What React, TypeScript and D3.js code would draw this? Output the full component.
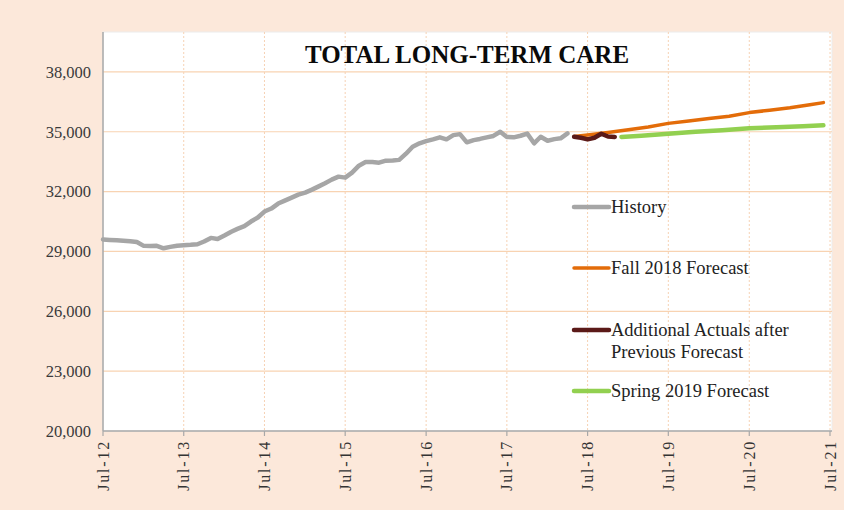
import React from "react";
import * as d3 from "d3";

const title = "TOTAL LONG-TERM CARE";
const yTicks = [20000, 23000, 26000, 29000, 32000, 35000, 38000];
const xTickLabels = ["Jul-12", "Jul-13", "Jul-14", "Jul-15", "Jul-16", "Jul-17", "Jul-18", "Jul-19", "Jul-20", "Jul-21"];

// History: monthly from Jul-2012 to Apr-2018
const historyStart = "2012-07";
const historyValues = [
  29600, 29580, 29560, 29540, 29510, 29470, 29280, 29270, 29280, 29160,
  29230, 29290, 29310, 29330, 29360, 29500, 29680, 29620, 29800, 29990,
  30130, 30270, 30500, 30700, 31000, 31150, 31400, 31550, 31700, 31850,
  31950, 32100, 32250, 32420, 32600, 32750, 32700, 32950, 33300, 33480,
  33480, 33450, 33550, 33560, 33590, 33900, 34250, 34420, 34530, 34620,
  34720, 34620, 34830, 34880, 34470, 34580, 34640, 34720, 34790, 35000,
  34740, 34720, 34800, 34910, 34420, 34750, 34550, 34630, 34670, 34920,
];

// Additional actuals: monthly May-2018 to Nov-2018
const actualsStart = "2018-05";
const actualsValues = [34750, 34700, 34620, 34700, 34900, 34760, 34740];

const fallMonths = ["2018-05", "2018-07", "2018-10", "2019-01", "2019-04", "2019-07", "2019-10", "2020-01", "2020-04", "2020-07", "2020-10", "2021-01", "2021-04", "2021-06"];
const fallValues = [34760, 34840, 34960, 35100, 35240, 35420, 35540, 35660, 35780, 35960, 36080, 36200, 36350, 36460];

const springMonths = ["2018-12", "2019-03", "2019-07", "2019-11", "2020-03", "2020-07", "2020-11", "2021-03", "2021-06"];
const springValues = [34740, 34800, 34900, 35000, 35070, 35170, 35230, 35280, 35320];

const legendItems = [
  { lines: ["History"], color: "#a6a6a6", width: 4.5 },
  { lines: ["Fall 2018 Forecast"], color: "#e36c09", width: 3.5 },
  { lines: ["Additional Actuals after", "Previous Forecast"], color: "#5b1a18", width: 4.5 },
  { lines: ["Spring 2019 Forecast"], color: "#92d050", width: 4.5 },
];
const legendY = [207, 268, 330, 391];

const parseMonth = d3.timeParse("%Y-%m");
const monthSeries = (start: string, values: number[]) =>
  values.map((v, i) => ({ date: d3.timeMonth.offset(parseMonth(start)!, i), value: v }));
const listSeries = (months: string[], values: number[]) =>
  values.map((v, i) => ({ date: parseMonth(months[i])!, value: v }));

export default function App() {
  const W = 844, H = 510;
  const left = 103, right = 830, top = 32, bottom = 431;
  const x = d3.scaleTime().domain([parseMonth("2012-07")!, parseMonth("2021-07")!]).range([left, right]);
  const y = d3.scaleLinear().domain([20000, 40000]).range([bottom, top]);
  const line = d3.line<{ date: Date; value: number }>().x(d => x(d.date)).y(d => y(d.value));
  const xTickDates = xTickLabels.map((_, i) => d3.timeYear.offset(parseMonth("2012-07")!, i));

  const history = monthSeries(historyStart, historyValues);
  const actuals = monthSeries(actualsStart, actualsValues);
  const fall = listSeries(fallMonths, fallValues);
  const spring = listSeries(springMonths, springValues);
  const fmt = d3.format(",");
  const serif = "'Liberation Serif', 'Times New Roman', serif";

  return (
    <svg width={W} height={H} style={{ position: "absolute", left: 0, top: 0, display: "block" }} fontFamily={serif}>
      <rect x={0} y={0} width={W} height={H} fill="#fce8da" />
      <rect x={left} y={top} width={832 - left} height={bottom - top} fill="#ffffff" stroke="#ececec" strokeWidth={1} />
      {yTicks.slice(1).map(t => (
        <line key={t} x1={left} x2={832} y1={y(t)} y2={y(t)} stroke="#f8d3b2" strokeWidth={1.2} />
      ))}
      {xTickDates.slice(1).map((d, i) => (
        <line key={i} x1={x(d)} x2={x(d)} y1={top} y2={bottom} stroke="#f6d2b4" strokeWidth={1} strokeDasharray="2,2" />
      ))}
      <line x1={left} x2={left} y1={top} y2={bottom} stroke="#a8a8a8" strokeWidth={1.5} />
      <line x1={left} x2={832} y1={bottom} y2={bottom} stroke="#a8a8a8" strokeWidth={1.5} />
      {xTickDates.map((d, i) => (
        <line key={i} x1={x(d)} x2={x(d)} y1={bottom} y2={bottom + 5} stroke="#a8a8a8" strokeWidth={1.2} />
      ))}
      {yTicks.map(t => (
        <text key={t} x={91} y={y(t)} dy="0.35em" textAnchor="end" fontSize={16.5} fill="#3a3a3a">{fmt(t)}</text>
      ))}
      {xTickDates.map((d, i) => (
        <text key={i} transform={`translate(${x(d)},${bottom + 9}) rotate(-90)`} dy="0.35em" textAnchor="end" fontSize={16} letterSpacing={1.8} fill="#333">{xTickLabels[i]}</text>
      ))}
      <text x={467} y={63} textAnchor="middle" fontSize={25} fontWeight="bold" fill="#0a0a0a">{title}</text>
      <path d={line(history)!} fill="none" stroke="#a6a6a6" strokeWidth={4.5} strokeLinejoin="round" strokeLinecap="round" />
      <path d={line(fall)!} fill="none" stroke="#e36c09" strokeWidth={3.5} strokeLinejoin="round" strokeLinecap="round" />
      <path d={line(actuals)!} fill="none" stroke="#5b1a18" strokeWidth={4.5} strokeLinejoin="round" strokeLinecap="round" />
      <path d={line(spring)!} fill="none" stroke="#92d050" strokeWidth={4.5} strokeLinejoin="round" strokeLinecap="round" />
      {legendItems.map((item, i) => (
        <g key={i}>
          <line x1={574} x2={609} y1={legendY[i]} y2={legendY[i]} stroke={item.color} strokeWidth={item.width} strokeLinecap="round" />
          {item.lines.map((l, j) => (
            <text key={j} x={611} y={legendY[i] + j * 22} dy="0.35em" fontSize={18.5} fill="#222">{l}</text>
          ))}
        </g>
      ))}
    </svg>
  );
}
